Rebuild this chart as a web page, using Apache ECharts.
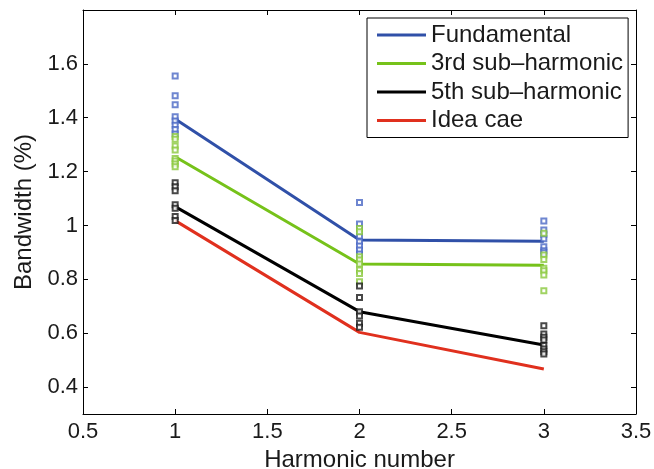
<!DOCTYPE html>
<html>
<head>
<meta charset="utf-8">
<script src="https://cdn.jsdelivr.net/npm/echarts@6/dist/echarts.min.js"></script>
<style>
  html, body { margin: 0; padding: 0; background: #fff; }
  #chart { width: 654px; height: 469px; }
</style>
</head>
<body>
<div id="chart"></div>
<script>
// Harmonic numbers on the x axis
const harmonics = [1, 2, 3];

// Mean bandwidth (%) per harmonic for each case
const fundamental = [1.395, 0.946, 0.941];
const subHarmonic3 = [1.255, 0.857, 0.852];
const subHarmonic5 = [1.070, 0.680, 0.556];
const idealCase = [1.018, 0.603, 0.467];

// Individual measurements per harmonic (one list per harmonic)
const fundamentalSamples = [
  [1.555, 1.482, 1.448, 1.404, 1.388, 1.372, 1.356, 1.340],
  [1.085, 1.005, 0.988, 0.961, 0.940, 0.924, 0.909, 0.894],
  [1.017, 0.983, 0.966, 0.951, 0.921, 0.906, 0.899]
];
const subHarmonic3Samples = [
  [1.330, 1.320, 1.295, 1.280, 1.249, 1.239, 1.228, 1.218],
  [0.989, 0.977, 0.884, 0.872, 0.857, 0.835, 0.822, 0.791],
  [0.971, 0.890, 0.874, 0.841, 0.832, 0.816, 0.758]
];
const subHarmonic5Samples = [
  [1.159, 1.144, 1.129, 1.077, 1.064, 1.033, 1.018],
  [0.775, 0.733, 0.680, 0.664, 0.637, 0.622],
  [0.628, 0.597, 0.585, 0.575, 0.554, 0.541, 0.531, 0.523]
];

// Axis ticks
const xTicks = [0.5, 1, 1.5, 2, 2.5, 3, 3.5];
const yTicks = [0.4, 0.6, 0.8, 1, 1.2, 1.4, 1.6];

const seriesNames = ['Fundamental', '3rd sub\u2013harmonic', '5th sub\u2013harmonic', 'Idea cae'];
const lineColors = ['#3050a8', '#76c21a', '#000000', '#e0301e'];
const sampleColors = ['#4a68c4', '#8ac83c', '#1a1a1a'];

const font = 'Liberation Sans, Arial, Helvetica, sans-serif';
const textColor = '#1a1a1a';

function toPairs(values) {
  return harmonics.map((h, i) => [h, values[i]]);
}
function samplePairs(groups) {
  const out = [];
  groups.forEach((g, i) => g.forEach(v => out.push([harmonics[i], v])));
  return out;
}

const lineData = [fundamental, subHarmonic3, subHarmonic5, idealCase];
const sampleData = [fundamentalSamples, subHarmonic3Samples, subHarmonic5Samples];

const series = [];
sampleData.forEach((groups, i) => {
  series.push({
    name: 'samples-' + i,
    type: 'scatter',
    data: samplePairs(groups),
    symbol: 'emptyRect',
    symbolSize: 5,
    itemStyle: { color: sampleColors[i], borderColor: sampleColors[i], borderWidth: 1 },
    z: 3,
    silent: true
  });
});
lineData.forEach((vals, i) => {
  series.push({
    name: seriesNames[i],
    type: 'line',
    data: toPairs(vals),
    showSymbol: false,
    symbol: 'none',
    lineStyle: { color: lineColors[i], width: 3 },
    itemStyle: { color: lineColors[i] },
    z: 2
  });
});

const chart = echarts.init(document.getElementById('chart'), null, { renderer: 'canvas' });
chart.setOption({
  animation: false,
  backgroundColor: '#ffffff',
  grid: { left: 83, right: 18, top: 10, bottom: 55, containLabel: false, outerBoundsMode: 'none' },
  legend: {
    data: seriesNames,
    orient: 'vertical',
    left: 367,
    top: 18,
    padding: [5, 5, 5, 10],
    itemGap: 4.5,
    itemWidth: 49,
    itemHeight: 3,
    icon: 'rect',
    backgroundColor: '#ffffff',
    borderColor: '#000000',
    borderWidth: 1,
    borderRadius: 0,
    textStyle: { fontFamily: font, fontSize: 24, color: textColor }
  },
  xAxis: [
    {
      type: 'value',
      min: 0.5, max: 3.5, interval: 0.5,
      name: 'Harmonic number',
      nameLocation: 'middle',
      nameGap: 31,
      nameTextStyle: { fontFamily: font, fontSize: 24, color: textColor },
      axisLine: { show: true, onZero: false, lineStyle: { color: '#000', width: 1 } },
      axisTick: { show: true, inside: true, length: 5, lineStyle: { color: '#000' } },
      axisLabel: { fontFamily: font, fontSize: 22, color: textColor, margin: 7,
        customValues: xTicks, formatter: v => String(v) },
      splitLine: { show: false }
    },
    {
      type: 'value', position: 'top',
      min: 0.5, max: 3.5, interval: 0.5,
      axisLine: { show: true, onZero: false, lineStyle: { color: '#000', width: 1 } },
      axisTick: { show: true, inside: true, length: 5, lineStyle: { color: '#000' } },
      axisLabel: { show: false },
      splitLine: { show: false }
    }
  ],
  yAxis: [
    {
      type: 'value',
      min: 0.3, max: 1.8,
      name: 'Bandwidth (%)',
      nameLocation: 'middle',
      nameGap: 42,
      nameTextStyle: { fontFamily: font, fontSize: 24, color: textColor },
      axisLine: { show: true, onZero: false, lineStyle: { color: '#000', width: 1 } },
      axisTick: { show: true, inside: true, length: 5, lineStyle: { color: '#000' }, customValues: yTicks },
      axisLabel: { fontFamily: font, fontSize: 22, color: textColor, margin: 5,
        customValues: yTicks, formatter: v => String(v) },
      splitLine: { show: false }
    },
    {
      type: 'value', position: 'right',
      min: 0.3, max: 1.8,
      axisLine: { show: true, onZero: false, lineStyle: { color: '#000', width: 1 } },
      axisTick: { show: true, inside: true, length: 5, lineStyle: { color: '#000' }, customValues: yTicks },
      axisLabel: { show: false },
      splitLine: { show: false }
    }
  ],
  series: series
});
</script>
</body>
</html>
